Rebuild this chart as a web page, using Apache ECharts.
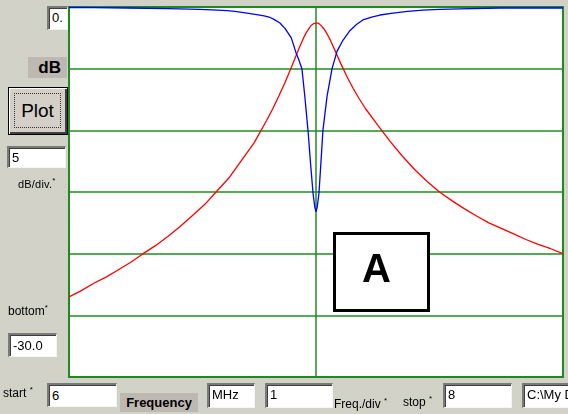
<!DOCTYPE html>
<html><head><meta charset="utf-8">
<script src="https://cdn.jsdelivr.net/npm/echarts@6/dist/echarts.min.js"></script>
<style>
html,body{margin:0;padding:0;width:568px;height:414px;overflow:hidden;}
body{background-color:#d5d1ca;background-image:radial-gradient(circle,#c6d8c0 0.7px,transparent 1px);background-size:4px 4px;font-family:"Liberation Sans",Arial,sans-serif;position:relative;}
#chart{position:absolute;left:0;top:0;width:568px;height:414px;}
.box{position:absolute;background:#fff;border-top:2px solid #7a7a7a;border-left:2px solid #7a7a7a;border-bottom:1px solid #f4f4f4;border-right:1px solid #f4f4f4;box-shadow:inset 1px 1px 0 #404040;font-size:13px;padding-left:3px;box-sizing:border-box;color:#000;overflow:hidden;white-space:nowrap;}
.lbl{position:absolute;font-size:12px;color:#000;white-space:nowrap;}
.dark{position:absolute;background:#bdb9b2;font-weight:bold;color:#000;white-space:nowrap;}
sup{font-size:8px;}
</style>
</head><body>
<div id="chart"></div>
<div class="box" style="left:47px;top:6px;width:21px;height:24px;line-height:20px;">0.</div>
<div class="dark" style="left:28px;top:57px;width:39px;height:21px;font-size:17px;line-height:21px;text-align:right;padding-right:6px;box-sizing:border-box;">dB</div>
<div style="position:absolute;left:8px;top:87px;width:60px;height:48px;box-sizing:border-box;background:#d4d0c8;border:1px solid #000;box-shadow:inset 1px 1px 0 #fff,inset -2px -2px 0 #404040;">
  <div style="position:absolute;left:5px;top:5px;right:6px;bottom:6px;border:1px dotted #333;font-size:19px;line-height:34px;text-align:center;color:#000;">Plot</div>
</div>
<div class="box" style="left:7px;top:146px;width:59px;height:22px;line-height:19px;">5</div>
<div class="lbl" style="left:18px;top:176px;font-size:11px;letter-spacing:0.2px;">dB/div.<sup>*</sup></div>
<div class="lbl" style="left:8px;top:303px;">bottom<sup>*</sup></div>
<div class="box" style="left:8px;top:333px;width:49px;height:24px;line-height:21px;">-30.0</div>
<div class="lbl" style="left:3px;top:385px;">start <sup>*</sup></div>
<div class="box" style="left:47px;top:383px;width:70px;height:24px;line-height:21px;">6</div>
<div class="dark" style="left:120px;top:393px;width:78px;height:19px;font-size:13px;line-height:19px;text-align:center;">Frequency</div>
<div class="box" style="left:207px;top:383px;width:48px;height:25px;line-height:19px;">MHz</div>
<div class="box" style="left:265px;top:383px;width:68px;height:25px;line-height:19px;">1</div>
<div class="lbl" style="left:334px;top:396px;">Freq./div <sup>*</sup></div>
<div class="lbl" style="left:403px;top:394px;">stop <sup>*</sup></div>
<div class="box" style="left:443px;top:383px;width:69px;height:25px;line-height:19px;">8</div>
<div class="box" style="left:522px;top:383px;width:60px;height:25px;line-height:19px;">C:\My Documents</div>
<script>
const xTicks = [6, 7, 8];
const yTicks = [0, -5, -10, -15, -20, -25, -30];

const redFreq = [6.0,6.05,6.1,6.15,6.2,6.25,6.3,6.35,6.4,6.45,6.5,6.55,6.6,6.65,6.7,6.75,6.8,6.825,6.85,6.875,6.9,6.915,6.93,6.95,6.96,6.97,6.98,6.99,7.0,
  7.01,7.02,7.03,7.04,7.05,7.06,7.08,7.1,7.125,7.15,7.175,7.2,7.25,7.3,7.35,7.4,7.45,7.5,7.55,7.6,7.65,7.7,7.75,7.8,7.85,7.9,7.95,8.0];
const redDb = [-23.5,-23.0,-22.4,-21.9,-21.3,-20.7,-20.0,-19.35,-18.6,-17.8,-16.9,-16.0,-14.9,-13.8,-12.4,-11.0,-9.2,-8.25,-7.2,-6.1,-4.9,-4.15,-3.4,-2.5,-2.1,-1.8,-1.5,-1.35,-1.3,
  -1.31,-1.49,-1.72,-2.02,-2.37,-2.77,-3.66,-4.57,-5.64,-6.59,-7.44,-8.23,-9.57,-10.9,-12.1,-13.2,-14.15,-15.0,-15.7,-16.35,-16.95,-17.5,-17.95,-18.4,-18.85,-19.25,-19.6,-20.0];

const blueFreq = [6.0,6.1,6.235,6.4,6.53,6.6,6.64,6.68,6.72,6.76,6.79,6.814,6.83,6.854,6.875,6.9,6.919,6.93,6.943,6.955,6.968,6.978,6.988,6.995,7.0,
  7.005,7.012,7.02,7.028,7.045,7.065,7.085,7.109,7.138,7.165,7.19,7.225,7.259,7.312,7.37,7.433,7.5,7.583,7.745,8.0];
const blueDb = [-0.04,-0.05,-0.08,-0.13,-0.2,-0.26,-0.3,-0.38,-0.5,-0.62,-0.72,-0.85,-1.0,-1.3,-1.75,-2.5,-3.7,-4.25,-5.0,-7.3,-10.1,-12.7,-15.1,-16.2,-16.6,
  -16.2,-15.1,-12.6,-10.0,-7.2,-5.0,-3.6,-2.7,-1.9,-1.4,-1.05,-0.82,-0.65,-0.5,-0.36,-0.25,-0.2,-0.16,-0.08,-0.08];

const markerLabel = 'A';

const chart = echarts.init(document.getElementById('chart'), null, {renderer:'canvas'});
const green = '#1e8c1e';
chart.setOption({
  animation: false,
  backgroundColor: 'transparent',
  grid: {left: 69, top: 7, right: 5, bottom: 37, show: true, backgroundColor: '#fff', borderColor: green, borderWidth: 2},
  xAxis: {type: 'value', min: xTicks[0], max: xTicks[xTicks.length-1], interval: xTicks[1]-xTicks[0],
    axisLine: {show: false}, axisTick: {show: false}, axisLabel: {show: false},
    splitLine: {show: true, lineStyle: {color: green, width: 1.5}}},
  yAxis: {type: 'value', min: yTicks[yTicks.length-1], max: yTicks[0], interval: 5,
    axisLine: {show: false}, axisTick: {show: false}, axisLabel: {show: false},
    splitLine: {show: true, lineStyle: {color: green, width: 1.5}}},
  series: [
    {type: 'line', data: redFreq.map((f,i)=>[f, redDb[i]]), showSymbol: false, smooth: false,
      lineStyle: {color: '#ff0000', width: 1.3}, z: 3},
    {type: 'line', data: blueFreq.map((f,i)=>[f, blueDb[i]]), showSymbol: false, smooth: false,
      lineStyle: {color: '#0000ff', width: 1.3}, z: 4}
  ],
  graphic: [
    {type: 'rect', left: 333, top: 232, z: 100, shape: {width: 94, height: 77},
      style: {fill: '#fff', stroke: '#000', lineWidth: 3}},
    {type: 'text', left: 362, top: 251, z: 101,
      style: {text: markerLabel, fill: '#000', font: 'bold 40px "Liberation Sans", Arial, sans-serif'}}
  ]
});
</script>
</body></html>
